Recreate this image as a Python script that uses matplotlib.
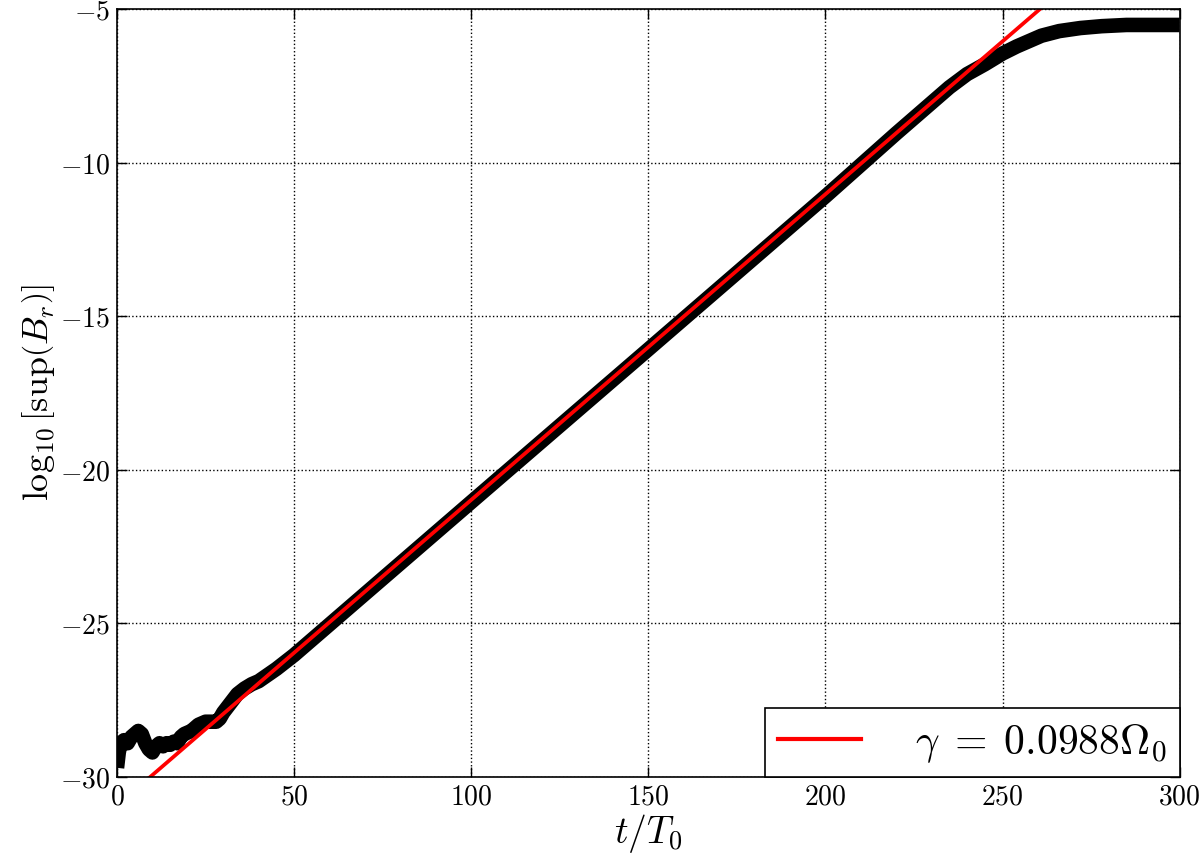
import numpy as np
import matplotlib
matplotlib.use("Agg")
import matplotlib.pyplot as plt

plt.rcParams['mathtext.fontset'] = 'cm'
plt.rcParams['font.family'] = 'serif'
plt.rcParams['font.serif'] = ['DejaVu Serif']

# Black simulation curve: log10[sup(B_r)] vs t/T0
t_data = [0, 0.5, 1, 2, 3, 4, 5, 6, 7, 8, 9, 10, 11, 12, 13, 14, 15, 16, 17, 18,
          19, 20, 21, 22, 23, 24, 25, 26, 27, 28, 29, 30, 32, 34, 36, 38, 40,
          45, 50, 100, 150, 200, 220, 230, 235, 240, 245, 250, 254, 258, 261,
          266, 272, 278, 285, 300]
y_data = [-29.7, -29.2, -28.9, -28.8, -28.9, -28.7, -28.6, -28.5, -28.6, -28.9,
          -29.1, -29.2, -29.0, -28.9, -29.0, -28.9, -28.95, -28.85, -28.9, -28.7,
          -28.6, -28.55, -28.5, -28.4, -28.3, -28.25, -28.2, -28.2, -28.2, -28.2,
          -28.1, -27.9, -27.6, -27.3, -27.12, -26.98, -26.88,
          -26.48, -26.03, -21.05, -16.08, -11.1, -9.05, -8.05, -7.55, -7.12,
          -6.8, -6.45, -6.22, -6.02, -5.87, -5.72, -5.62, -5.56, -5.52, -5.52]

# Red fit line endpoints
t_fit = [0, 300]
y_fit = [-30.93, -1.08]
fit_label = r'$\gamma\;=\;0.0988\Omega_0$'

xticks = [0, 50, 100, 150, 200, 250, 300]
yticks = [-30, -25, -20, -15, -10, -5]

fig = plt.figure(figsize=(12, 8.55), dpi=100)
ax = fig.add_axes([0.0975, 0.0912, 0.8855, 0.8983])

ax.plot(t_data, y_data, color='black', lw=10.5, solid_capstyle='butt',
        solid_joinstyle='round')
ax.plot(t_fit, y_fit, color='red', lw=2.7, label=fit_label)

ax.set_xlim(0, 300)
ax.set_ylim(-30, -5)
ax.set_xticks(xticks)
ax.set_yticks(yticks)
ax.set_xticklabels([r'$%d$' % v for v in xticks], fontsize=20)
ax.set_yticklabels([r'$%d$' % v for v in yticks], fontsize=20)
ax.tick_params(direction='in', length=7, width=1, top=True, right=True, pad=5)
for s in ax.spines.values():
    s.set_linewidth(1.2)
ax.grid(True, color='black', linestyle=':', linewidth=1)

ax.set_xlabel(r'$t/T_0$', fontsize=27, labelpad=1)
ax.set_ylabel(r'$\log_{10}\left[\mathrm{sup}\left(B_r\right)\right]$', fontsize=26, labelpad=2)

leg = ax.legend(loc='lower right', fontsize=30, fancybox=False, borderaxespad=0,
                handlelength=2.0, handletextpad=1.3, borderpad=0.3, framealpha=1)
leg.get_frame().set_edgecolor('black')
leg.get_frame().set_linewidth(1.2)
for line in leg.get_lines():
    line.set_linewidth(3)

fig.savefig('out.png', dpi=100)
